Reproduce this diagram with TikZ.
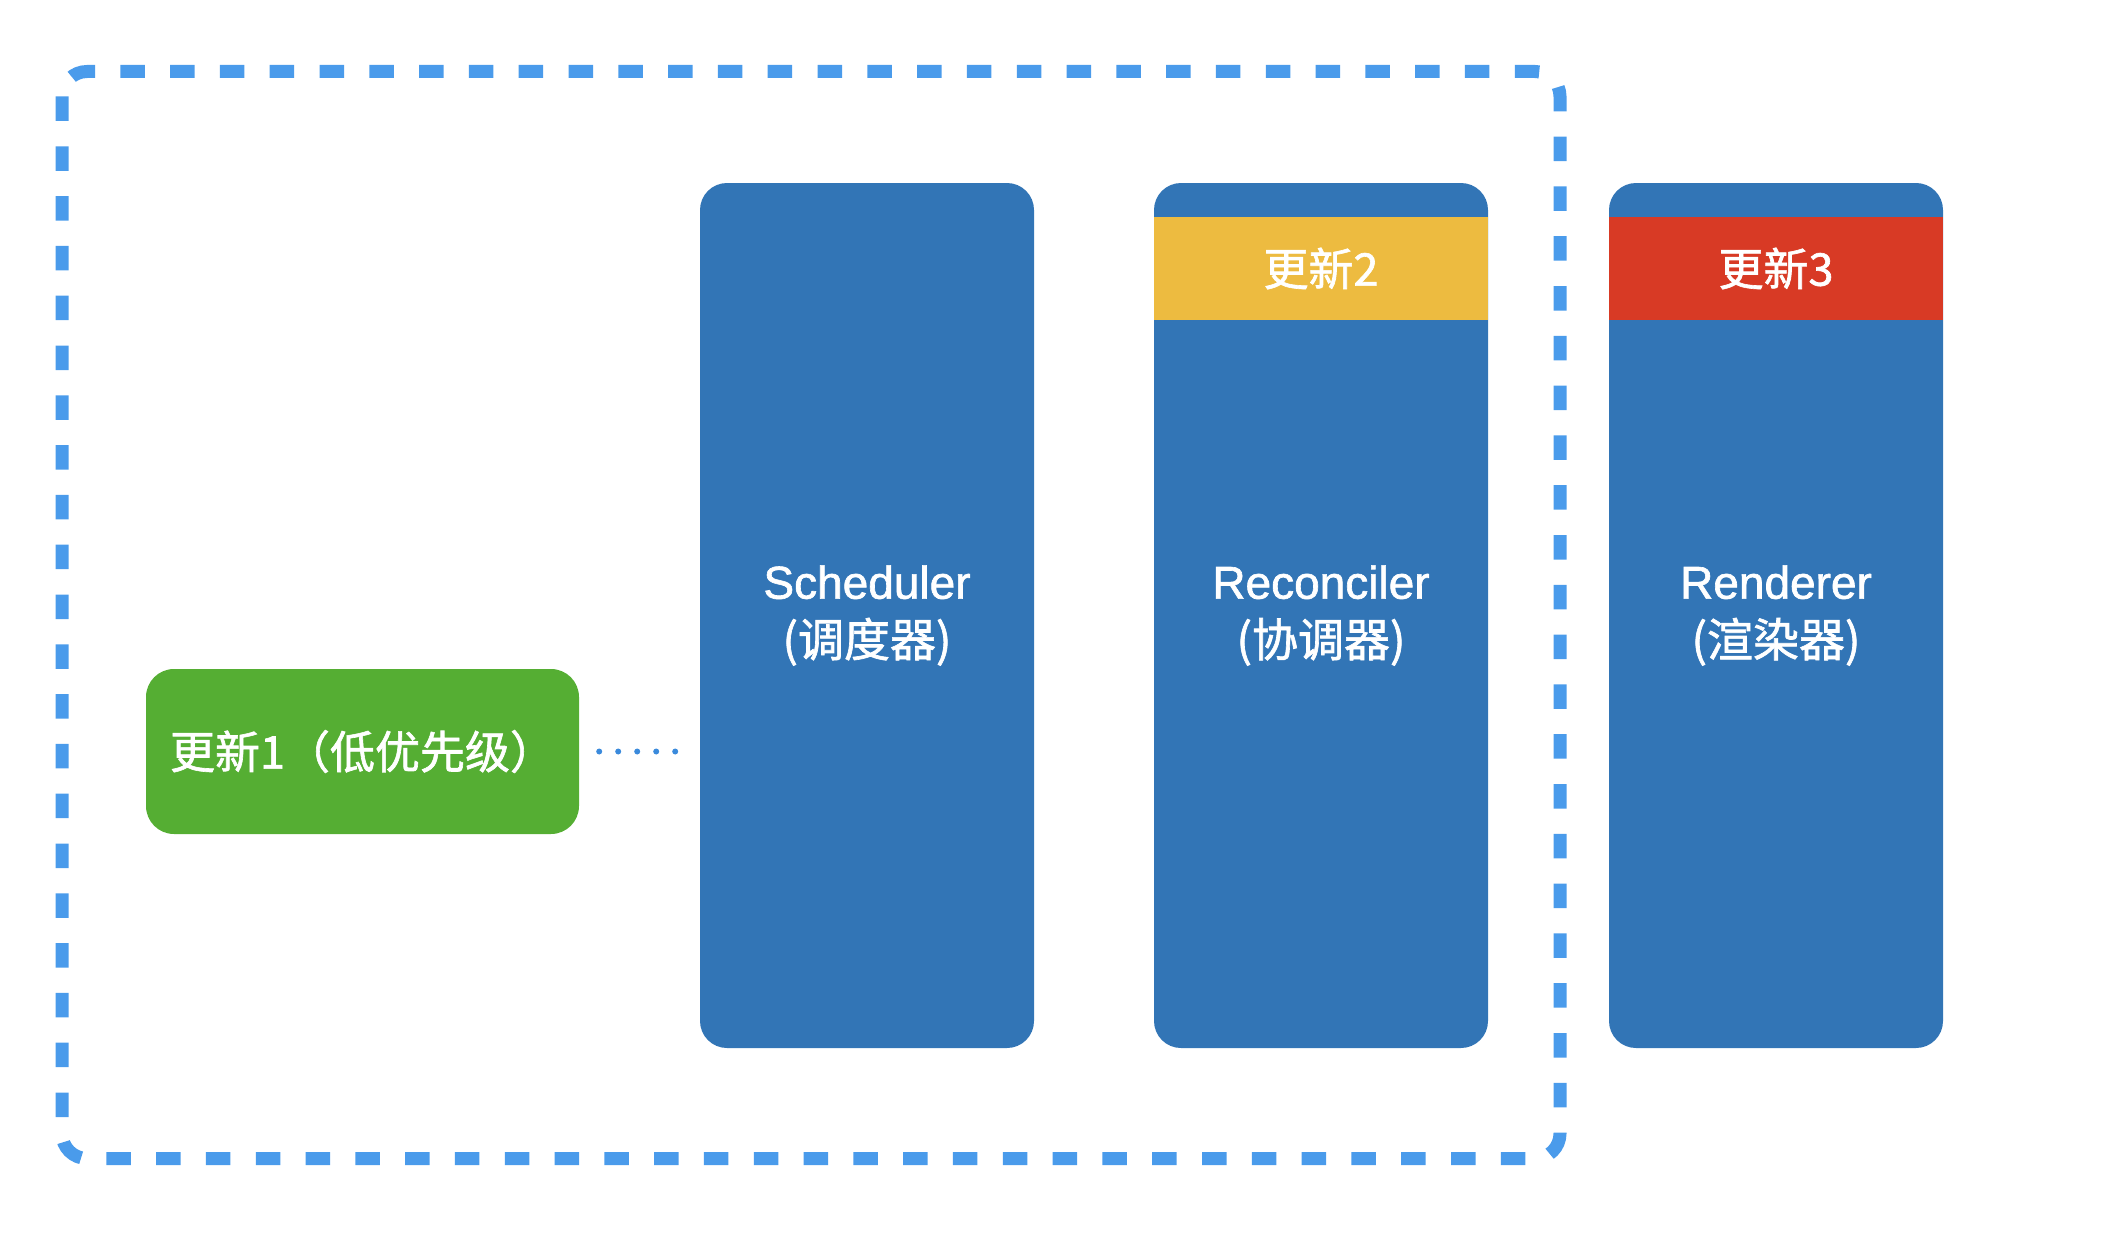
\documentclass[tikz,border=0pt]{standalone}
\usepackage{fontspec}
\setmainfont{Liberation Sans}[FakeBold=1.4]
\newfontfamily\cjk{Noto Sans CJK SC}[FakeBold=1.4]
\definecolor{boxblue}{RGB}{50,117,182}
\definecolor{frameblue}{RGB}{74,155,235}
\definecolor{dotblue}{RGB}{58,138,220}
\definecolor{updgreen}{RGB}{85,174,51}
\definecolor{updyellow}{RGB}{237,187,64}
\definecolor{updred}{RGB}{216,58,37}
\tikzset{
  stagebox/.style={rectangle, rounded corners=27pt, fill=boxblue, draw=none,
    minimum width=334pt, minimum height=865pt, inner sep=0pt,
    text=white, align=center, font=\fontsize{46}{58}\selectfont},
  band/.style={rectangle, draw=none, minimum width=334pt, minimum height=103pt,
    inner sep=0pt, text=white, font=\cjk\fontsize{45}{54}\selectfont},
  greenbox/.style={rectangle, rounded corners=28pt, fill=updgreen, draw=none,
    minimum width=433pt, minimum height=165pt, inner sep=0pt,
    text=white, font=\cjk\fontsize{45}{54}\selectfont},
  frame/.style={draw=frameblue, line width=13pt, rounded corners=25pt,
    dash pattern=on 24.5pt off 25.3pt},
  dots/.style={draw=dotblue, line width=6pt, line cap=round,
    dash pattern=on 0pt off 19pt}
}
\begin{document}
\begin{tikzpicture}[x=1pt,y=-1pt]
\useasboundingbox (0,0) rectangle (2104,1236);
% dashed frame
\draw[frame] (62,71.5) rectangle (1560,1158.5);
% stage boxes
\node[stagebox] (sched) at (867,615.5) {Scheduler\\{\cjk (调度器)}};
\node[stagebox] (recon) at (1321,615.5) {Reconciler\\{\cjk (协调器)}};
\node[stagebox] (rend) at (1776,615.5) {Renderer\\{\cjk (渲染器)}};
% update bands
\node[band, fill=updyellow] (upd2) at (1321,268.5) {更新2};
\node[band, fill=updred] (upd3) at (1776,268.5) {更新3};
% low priority update
\node[greenbox] (upd1) at (362.5,751.5) {更新1（低优先级）};
% dotted connector
\draw[dots, shorten <=20pt, shorten >=24pt] (upd1.east) -- (upd1.east -| sched.west);
\end{tikzpicture}
\end{document}
